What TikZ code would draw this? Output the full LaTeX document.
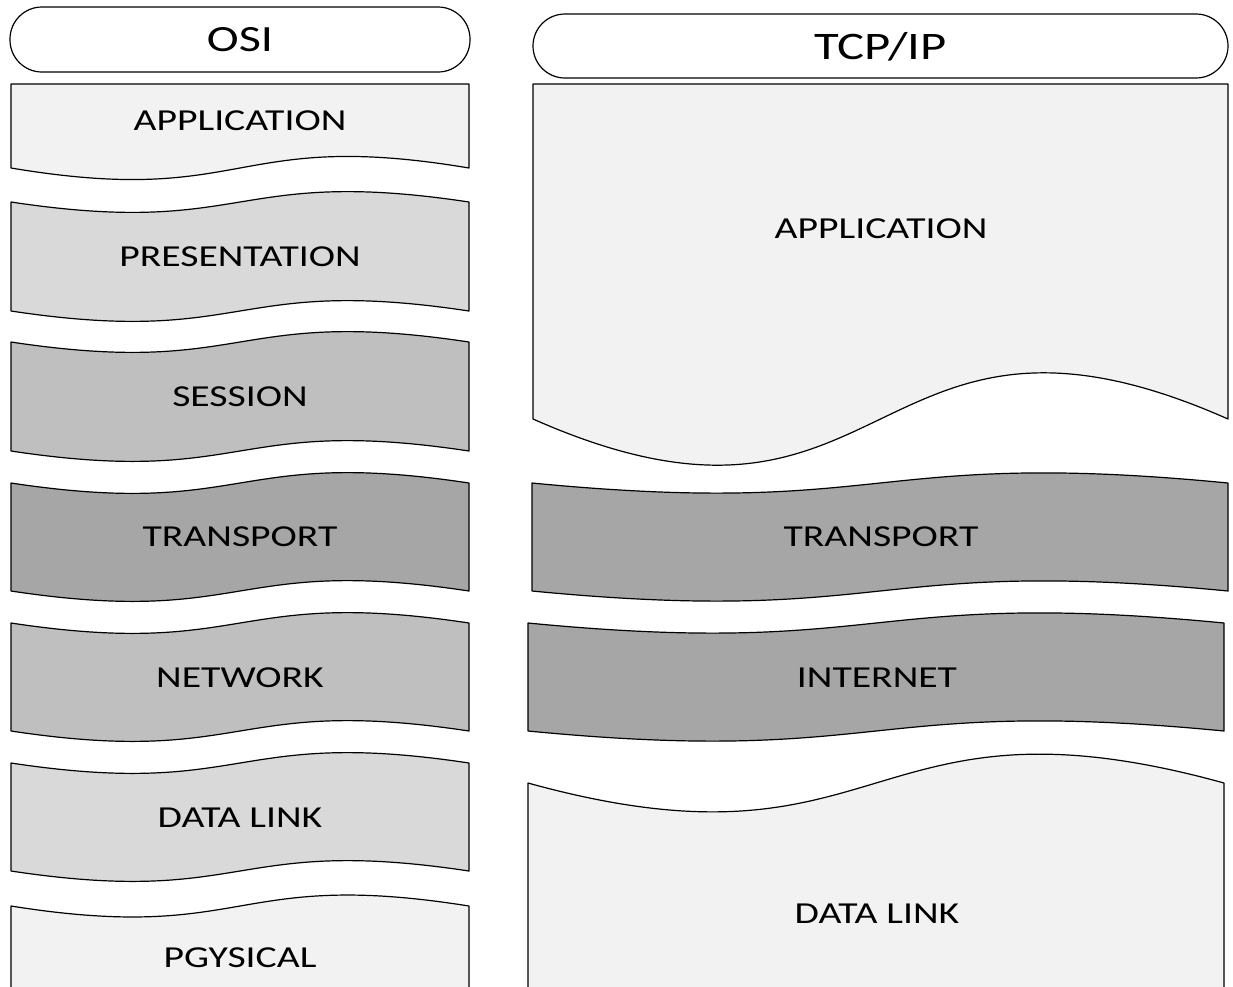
\documentclass[tikz,border=0pt]{standalone}
\usepackage{fontspec}
\newfontfamily\labfont[FakeStretch=1.3]{Carlito}
\definecolor{gA}{HTML}{F2F2F2}
\definecolor{gB}{HTML}{D9D9D9}
\definecolor{gC}{HTML}{BFBFBF}
\definecolor{gD}{HTML}{A6A6A6}
\tikzset{
  layer/.style={draw=black, line width=1.2pt, line join=round},
  lab/.style={font=\labfont\fontsize{30.5}{36}\selectfont, text depth=0pt, inner sep=0pt},
  headbox/.style={draw=black, line width=1.2pt, fill=white, rounded corners=32pt,
    font=\labfont\fontsize{37}{44}\selectfont, text depth=0pt, inner sep=0pt},
}
% #1 x1, #2 x2, #3 y top, #4 top wave, #5 y bottom, #6 bottom wave, #7 fill
\newcommand{\layerwave}[7]{%
  \pgfmathsetmacro{\wA}{#1+0.52*(#2-#1)}%
  \pgfmathsetmacro{\wB}{#1+0.48*(#2-#1)}%
  \draw[layer, fill=#7] (#1,#3) .. controls (\wA,#3+#4) and (\wB,#3-#4) .. (#2,#3)
    -- (#2,#5) .. controls (\wB,#5-#6) and (\wA,#5+#6) .. (#1,#5) -- cycle;
}
\begin{document}
\begin{tikzpicture}[x=1pt, y=-1pt]
\useasboundingbox (0,0) rectangle (1233,986);
\clip (0,0) rectangle (1233,986);
\fill[white] (0,0) rectangle (1233,986);

% OSI column
\node[headbox, minimum width=460pt, minimum height=65pt] (osi) at (240,39.5) {OSI};
\layerwave{11}{469}{84}{0}{168}{40}{gA}
\layerwave{11}{469}{202}{36}{311}{36}{gB}
\layerwave{11}{469}{342}{36}{451}{36}{gC}
\layerwave{11}{469}{483}{36}{591}{36}{gD}
\layerwave{11}{469}{623}{36}{731}{36}{gC}
\layerwave{11}{469}{763}{36}{871}{36}{gB}
\layerwave{11}{469}{906}{38}{1000}{0}{gA}
\node[lab] (oapp) at (240,121) {APPLICATION};
\node[lab] (opres) at (240,257) {PRESENTATION};
\node[lab] (osess) at (240,397) {SESSION};
\node[lab] (otrans) at (240,537) {TRANSPORT};
\node[lab] (onet) at (240,678) {NETWORK};
\node[lab] (odl) at (240,818) {DATA LINK};
\node[lab] (ophy) at (240,958) {PGYSICAL};

% TCP/IP column
\node[headbox, font=\labfont\fontsize{39}{46}\selectfont, minimum width=695pt, minimum height=64pt] (tcp) at (880.5,46) {TCP/IP};
\layerwave{533}{1228}{84}{0}{419}{160}{gA}
\layerwave{532}{1228}{483}{35}{591}{35}{gD}
\layerwave{528}{1224}{623}{35}{731}{35}{gD}
\layerwave{528}{1224}{783}{100}{1000}{0}{gA}
\node[lab] (tapp) at (881,229) {APPLICATION};
\node[lab] (ttrans) at (881,537) {TRANSPORT};
\node[lab] (tnet) at (877,678) {INTERNET};
\node[lab] (tdl) at (877,914) {DATA LINK};
\end{tikzpicture}
\end{document}
